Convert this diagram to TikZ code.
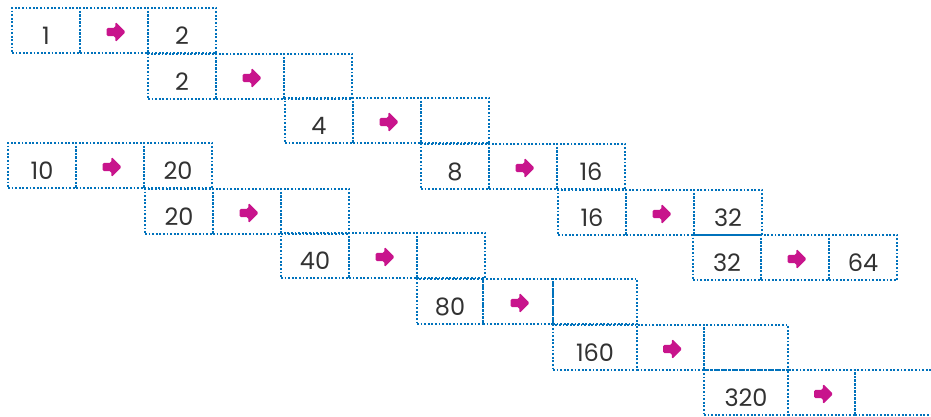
\documentclass[tikz,border=0pt]{standalone}
\usepackage{fontspec}
\setmainfont{Poppins}
\usetikzlibrary{shapes.arrows}

\definecolor{dotblue}{RGB}{0,114,188}
\definecolor{arrowpink}{RGB}{200,20,140}
\definecolor{numgray}{RGB}{50,50,50}

\tikzset{
    cell/.style={draw=dotblue, line width=1.8pt, dash pattern=on 1.8pt off 1.8pt,
        minimum height=45pt, inner sep=0pt, outer sep=0pt},
    num/.style={text=numgray, font=\fontsize{24}{24}\selectfont, inner sep=0pt},
    fatarrow/.style={single arrow, fill=arrowpink, draw=none, minimum height=19pt,
        inner sep=4pt, single arrow head extend=6pt, rounded corners=1.5pt}
}

\begin{document}
\begin{tikzpicture}[x=1pt,y=-1pt]
    \useasboundingbox (0,0) rectangle (931,416);

    % Zeilen: Name / links oben / Breiten / Zahlen
    \foreach \n/\x/\y/\wl/\wm/\wr/\l/\r in {
        a1/12/8/68/68/68/1/2,
        a2/148/54/68/68/68/2/{},
        a3/285/98/68/68/68/4/{},
        a4/421/144/68/68/68/8/16,
        a5/558/190/68/68/68/16/32,
        a6/693/235/68/68/68/32/64,
        b1/8/143/68/68/68/10/20,
        b2/145/189/68/68/68/20/{},
        b3/281/233/68/68/68/40/{},
        b4/417/279/66/70/84/80/{},
        b5/553/325/84/67/84/160/{},
        b6/704/370/84/67/84/320/{}}
    {
        \node[cell, minimum width=\wl pt, anchor=north west] (\n l) at (\x,\y) {};
        \node[cell, minimum width=\wm pt, anchor=north west] (\n m) at (\n l.north east) {};
        \node[cell, minimum width=\wr pt, anchor=north west] (\n r) at (\n m.north east) {};
        \node[num] (\n lt) at ([yshift=-5pt]\n l.center) {\l};
        \node[num] (\n rt) at ([yshift=-5pt]\n r.center) {\r};
        \node[fatarrow] (\n a) at ([yshift=-1.5pt]\n m.center) {};
    }
\end{tikzpicture}
\end{document}
